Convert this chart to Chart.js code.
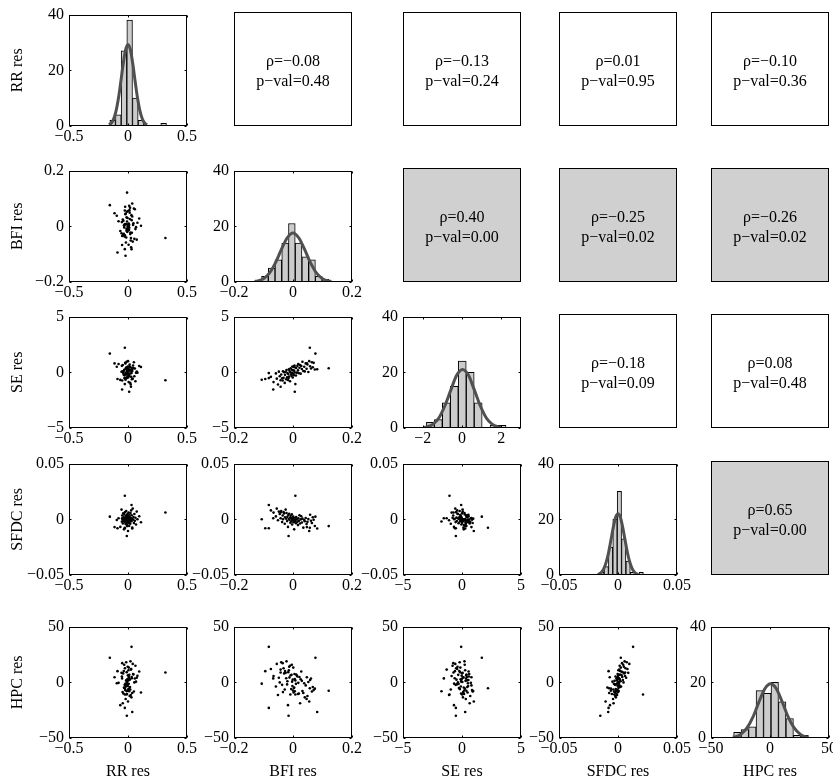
<!DOCTYPE html>
<html>
<head>
<meta charset="utf-8">
<script src="https://cdn.jsdelivr.net/npm/chart.js@4.4.1/dist/chart.umd.min.js"></script>
<style>
  html, body { margin: 0; padding: 0; background: #fff; overflow: hidden; width: 833px; height: 782px; }
  canvas { position: absolute; }
</style>
</head>
<body>
<script>
// residuals, one entry per subject
const rrRes = [-0.154, 0.317, -0.008, -0.027, -0.027, 0.030, -0.010, 0.036, -0.027, -0.114, -0.089, 0.010, -0.050, -0.021,
  0.000, -0.034, 0.036, -0.065, 0.010, -0.008, 0.068, -0.020, 0.019, -0.044,
  0.006, 0.050, -0.013, -0.004, 0.110, -0.028, 0.014, -0.052, 0.003, 0.029,
  -0.006, -0.039, 0.058, 0.001, -0.016, 0.023, -0.095, 0.008, -0.024, 0.043,
  -0.002, 0.015, -0.046, 0.080, -0.009, 0.004, -0.030, 0.033, -0.012, 0.011,
  -0.080, 0.025, -0.005, -0.022, 0.063, 0.002, -0.036, 0.017, 0.046, -0.007,
  0.007, -0.018, 0.095, -0.001, -0.049, 0.031, -0.011, 0.012, -0.032, 0.054,
  -0.003, -0.041, 0.021, 0.005, -0.026, 0.074, -0.015, 0.027, -0.055, 0.040];
const bfiRes = [0.076, -0.042, 0.121, 0.057, 0.008, -0.082, -0.015, 0.082, -0.082, 0.047, -0.094, 0.006, -0.067, -0.106,
  0.055, 0.004, 0.035, -0.017, 0.074, 0.017, -0.003, 0.046, -0.028, 0.024,
  0.010, 0.064, -0.009, 0.030, 0.002, -0.037, 0.049, 0.015, -0.006, 0.040,
  -0.020, 0.020, 0.061, 0.000, 0.008, -0.051, 0.038, -0.012, 0.070, 0.005,
  -0.002, 0.026, -0.034, 0.013, 0.052, -0.014, 0.003, -0.023, 0.032, -0.005,
  0.018, -0.042, 0.006, 0.043, -0.010, -0.001, -0.027, 0.067, 0.011, -0.019,
  0.001, -0.058, 0.028, -0.008, -0.035, 0.022, -0.016, 0.058, -0.004, -0.045,
  -0.013, -0.030, -0.022, -0.066, -0.032, -0.048, -0.040, -0.075, -0.025, -0.055];
const seRes = [1.68, -0.72, 0.37, 2.2, -1.06, -0.07, -0.52, 0.27, -0.52, 0.8, -0.6, -1.74, -1.54, -0.67,
  1.00, 0.15, 0.12, -0.68, 0.25, 0.17, -0.05, 0.32, -0.95, 0.65,
  -0.29, 0.90, 0.01, 0.30, 0.47, -0.54, 0.70, 0.58, -0.18, 0.08,
  -0.44, -0.08, 0.34, 0.19, 0.43, -1.10, 0.50, 0.13, 0.85, 0.61,
  0.52, -0.12, 0.10, -0.03, 0.03, 0.27, -0.26, -0.62, 0.95, -0.32,
  0.75, -1.30, -0.02, 0.80, -0.80, -0.47, -0.23, 0.45, 0.38, -0.07,
  -0.14, -0.10, 0.56, 0.36, -0.74, 0.41, -0.16, 0.54, 0.23, -0.35,
  -0.38, 0.00, 0.21, -0.88, -0.50, 0.06, -0.20, -0.41, 0.05, -0.57];
const sfdcRes = [0.0024, 0.0061, -0.0061, -0.0076, 0.0212, 0.0128, -0.0150, -0.0083, -0.0080, -0.0070, -0.0080, -0.0020, 0.0010, 0.0000,
  -0.0105, -0.0090, -0.0075, -0.0068, -0.0060, -0.0052, -0.0047, -0.0042, -0.0040, -0.0038,
  -0.0035, -0.0033, -0.0031, -0.0029, -0.0027, -0.0025, -0.0023, -0.0021, -0.0019, -0.0018,
  -0.0016, -0.0014, -0.0013, -0.0011, -0.0010, -0.0008, -0.0006, -0.0005, -0.0004, -0.0003,
  -0.0002, -0.0001, 0.0000, 0.0001, 0.0002, 0.0003, 0.0004, 0.0005, 0.0006, 0.0008,
  0.0009, 0.0010, 0.0011, 0.0012, 0.0014, 0.0015, 0.0017, 0.0018, 0.0020, 0.0022,
  0.0024, 0.0026, 0.0028, 0.0031, 0.0034, 0.0036, 0.0039, 0.0041, 0.0044, 0.0047,
  0.0050, 0.0053, 0.0056, 0.0060, 0.0064, 0.0069, 0.0074, 0.0080, 0.0087, 0.0096];
const hpcRes = [22, 8.8, -7.6, -5.3, -11, 31.8, -30, -26.6, -23, 4.6, 10, -8, 3.5, -1.2,
  -17.2, -4.7, -9.6, -20.5, -5.7, -10.5, 0.6, -15.0, -6.5, -18.8,
  -1.4, -8.3, -11.0, 1.3, -9.2, -2.3, -12.3, 5.2, -6.1, -13.5,
  -1.9, -10.0, 3.4, -7.4, 1.7, -11.4, -0.9, 4.4, -7.0, 7.5,
  -3.3, 2.7, -8.8, 5.9, 0.3, 10.8, -5.2, 3.7, -7.9, 6.7,
  -0.5, 11.4, 3.0, -2.8, 14.9, 2.4, 10.2, -4.2, 7.0, 1.0,
  13.2, -3.8, 9.7, 6.3, 17.2, 4.8, 9.1, 2.0, 15.7, -0.1,
  14.0, 8.0, 18.8, 5.6, 12.6, 4.1, 18.0, 12.0, 8.5, 16.5];

// histograms on the diagonal (bin centres and counts)
const rrBins = [-0.130, -0.082, -0.034, 0.014, 0.062, 0.110, 0.158, 0.206, 0.254, 0.302];
const rrCounts = [2, 4, 27, 38, 10, 2, 0, 0, 0, 1];
const bfiBins = [-0.0951, -0.0723, -0.0495, -0.0267, -0.0039, 0.0189, 0.0417, 0.0645, 0.0873, 0.1101];
const bfiCounts = [2, 5, 8, 14, 21, 14, 9, 8, 2, 1];
const seBins = [-1.6075, -1.2025, -0.7975, -0.3925, 0.0125, 0.4175, 0.8225, 1.2275, 1.6325, 2.0375];
const seCounts = [2, 3, 9, 15, 24, 20, 9, 0, 1, 1];
const sfdcBins = [-0.01365, -0.00995, -0.00625, -0.00255, 0.00115, 0.00485, 0.00855, 0.01225, 0.01595, 0.01965];
const sfdcCounts = [1, 3, 10, 20, 30, 13, 5, 1, 0, 1];
const hpcBins = [-27.635, -21.305, -14.975, -8.645, -2.315, 4.015, 10.345, 16.675, 23.005, 29.335];
const hpcCounts = [2, 3, 4, 17, 16, 20, 13, 7, 1, 1];

// fitted curves over the histograms
const rrCurveX = [-0.16, -0.14, -0.12, -0.10, -0.08, -0.06, -0.04, -0.02, 0, 0.02, 0.04, 0.06, 0.08, 0.10, 0.12, 0.14, 0.16];
const rrCurveY = [0.4, 1.1, 2.7, 5.6, 10.2, 16.2, 22.5, 27.4, 29.3, 27.4, 22.5, 16.2, 10.2, 5.6, 2.7, 1.1, 0.4];
const bfiCurveX = [-0.13, -0.12, -0.10, -0.08, -0.06, -0.04, -0.02, 0, 0.02, 0.04, 0.06, 0.08, 0.10, 0.12, 0.13];
const bfiCurveY = [0.2, 0.4, 1.2, 3.2, 6.8, 11.5, 15.8, 17.6, 15.8, 11.5, 6.8, 3.2, 1.2, 0.4, 0.2];
const seCurveX = [-1.92, -1.77, -1.47, -1.17, -0.87, -0.57, -0.27, 0.03, 0.33, 0.63, 0.93, 1.23, 1.53, 1.83, 1.98];
const seCurveY = [0.2, 0.4, 1.4, 3.7, 8.0, 13.6, 18.9, 21.0, 18.9, 13.6, 8.0, 3.7, 1.4, 0.4, 0.2];
const sfdcCurveX = [-0.017, -0.014, -0.012, -0.010, -0.008, -0.006, -0.004, -0.002, 0, 0.002, 0.004, 0.006, 0.008, 0.010, 0.012, 0.014, 0.017];
const sfdcCurveY = [0.2, 1.0, 2.3, 4.6, 8.0, 12.5, 17.1, 20.7, 22.0, 20.7, 17.1, 12.5, 8.0, 4.6, 2.3, 1.0, 0.2];
const hpcCurveX = [-31.5, -29.5, -24.5, -19.5, -14.5, -9.5, -4.5, 0.5, 5.5, 10.5, 15.5, 20.5, 25.5, 30.5, 32.5];
const hpcCurveY = [0.3, 0.4, 1.4, 3.6, 7.5, 12.8, 17.6, 19.5, 17.6, 12.8, 7.5, 3.6, 1.4, 0.4, 0.3];

// correlations in the upper triangle: pairs (row, col)
const corrPairs = [[0, 1], [0, 2], [0, 3], [0, 4], [1, 2], [1, 3], [1, 4], [2, 3], [2, 4], [3, 4]];
const corrRho = [-0.08, -0.13, 0.01, -0.10, 0.40, -0.25, -0.26, -0.18, 0.08, 0.65];
const corrP = [0.48, 0.24, 0.95, 0.36, 0.00, 0.02, 0.02, 0.09, 0.48, 0.00];

// axes
const varNames = ['RR res', 'BFI res', 'SE res', 'SFDC res', 'HPC res'];
const varRange = [[-0.5, 0.5], [-0.2, 0.2], [-5, 5], [-0.05, 0.05], [-50, 50]];
const varTicks = [[-0.5, 0, 0.5], [-0.2, 0, 0.2], [-5, 0, 5], [-0.05, 0, 0.05], [-50, 0, 50]];
const histRange = [[-0.5, 0.5], [-0.2, 0.2], [-3, 3], [-0.05, 0.05], [-50, 50]];
const histTicks = [[-0.5, 0, 0.5], [-0.2, 0, 0.2], [-2, 0, 2], [-0.05, 0, 0.05], [-50, 0, 50]];
const countTicks = [0, 20, 40];

const varData = [rrRes, bfiRes, seRes, sfdcRes, hpcRes];
const histBins = [rrBins, bfiBins, seBins, sfdcBins, hpcBins];
const histCounts = [rrCounts, bfiCounts, seCounts, sfdcCounts, hpcCounts];
const curveX = [rrCurveX, bfiCurveX, seCurveX, sfdcCurveX, hpcCurveX];
const curveY = [rrCurveY, bfiCurveY, seCurveY, sfdcCurveY, hpcCurveY];

const FONT = "'Liberation Serif', 'Times New Roman', serif";
const colLeft = [69, 234, 403, 559, 711];
const rowTop = [12, 168, 314, 461, 624];
const PW = 118, PH = 114;
const ML = 66, MT = 12, MR = 24;

Chart.defaults.font.family = FONT;
Chart.defaults.font.size = 16;
Chart.defaults.color = '#000';

function fmt(v) {
  if (v === 0) return '0';
  return (v < 0 ? '\u2212' : '') + String(Math.abs(v));
}

// box round the plot area, with little inward ticks on all four sides
const frame = {
  id: 'frame',
  beforeDraw(chart, args, opts) {
    if (!opts.fill) return;
    const a = chart.chartArea, ctx = chart.ctx;
    ctx.save();
    ctx.fillStyle = opts.fill;
    ctx.fillRect(a.left, a.top, a.right - a.left, a.bottom - a.top);
    ctx.restore();
  },
  afterDraw(chart, args, opts) {
    const a = chart.chartArea, ctx = chart.ctx;
    const L = Math.round(a.left) + 0.5, R = Math.round(a.right) - 0.5;
    const T = Math.round(a.top) + 0.5, B = Math.round(a.bottom) - 0.5;
    ctx.save();
    ctx.strokeStyle = '#000';
    ctx.lineWidth = 1;
    ctx.strokeRect(L, T, R - L, B - T);
    if (opts.ticks) {
      const tl = 2;
      ctx.beginPath();
      const xs = chart.scales.x, ys = chart.scales.y;
      xs.ticks.forEach(t => {
        const px = Math.round(xs.getPixelForValue(t.value)) + 0.5;
        ctx.moveTo(px, B); ctx.lineTo(px, B - tl);
        ctx.moveTo(px, T); ctx.lineTo(px, T + tl);
      });
      ys.ticks.forEach(t => {
        const py = Math.round(ys.getPixelForValue(t.value)) + 0.5;
        ctx.moveTo(L, py); ctx.lineTo(L + tl, py);
        ctx.moveTo(R, py); ctx.lineTo(R - tl, py);
      });
      ctx.stroke();
    }
    if (opts.lines) {
      const cx = (a.left + a.right) / 2, cy = (a.top + a.bottom) / 2;
      ctx.fillStyle = '#000';
      ctx.font = '16px ' + FONT;
      ctx.textAlign = 'center';
      ctx.textBaseline = 'alphabetic';
      ctx.fillText(opts.lines[0], cx, cy - 3);
      ctx.fillText(opts.lines[1], cx, cy + 17);
    }
    ctx.restore();
  }
};

function axis(pos, range, ticks, size, title) {
  const horiz = pos === 'bottom';
  return {
    type: 'linear',
    position: pos,
    min: range[0],
    max: range[1],
    offset: false,
    afterBuildTicks: s => { s.ticks = ticks.map(v => ({ value: v })); },
    afterFit: s => { if (horiz) s.height = size; else s.width = size; },
    grid: { display: false, drawTicks: false },
    border: { display: false },
    ticks: {
      color: '#000',
      font: { family: FONT, size: 16 },
      padding: horiz ? 1 : 5,
      maxRotation: 0,
      autoSkip: false,
      callback: v => fmt(v)
    },
    title: title ? {
      display: true,
      text: title,
      color: '#000',
      font: { family: FONT, size: 16 },
      padding: horiz ? { top: 0, bottom: 7 } : { top: 5, bottom: 0 }
    } : { display: false }
  };
}

function makeCanvas(r, c) {
  const mb = r === 4 ? 50 : 32;
  const cv = document.createElement('canvas');
  cv.width = PW + ML + MR;
  cv.height = PH + MT + mb;
  cv.style.left = (colLeft[c] - ML) + 'px';
  cv.style.top = (rowTop[r] - MT) + 'px';
  document.body.appendChild(cv);
  return { cv, mb };
}

function baseOptions(r, c, mb, xRange, xTicks, yRange, yTicks, frameOpts) {
  return {
    responsive: false,
    animation: false,
    devicePixelRatio: 1,
    events: [],
    layout: { padding: { left: 0, top: MT, right: MR, bottom: 0 } },
    plugins: { legend: { display: false }, tooltip: { enabled: false }, frame: frameOpts },
    scales: {
      x: axis('bottom', xRange, xTicks, mb, r === 4 ? varNames[c] : null),
      y: axis('left', yRange, yTicks, ML, c === 0 ? varNames[r] : null)
    }
  };
}

for (let r = 0; r < 5; r++) {
  for (let c = 0; c < 5; c++) {
    const { cv, mb } = makeCanvas(r, c);
    if (r === c) {
      new Chart(cv, {
        type: 'bar',
        data: {
          datasets: [
            {
              type: 'line',
              data: curveX[r].map((x, k) => ({ x, y: curveY[r][k] })),
              borderColor: '#505050',
              borderWidth: 3,
              pointRadius: 0,
              cubicInterpolationMode: 'monotone',
              order: 0
            },
            {
              type: 'bar',
              data: histBins[r].map((x, k) => ({ x, y: histCounts[r][k] })),
              backgroundColor: '#cccccc',
              borderColor: '#000',
              borderWidth: 1,
              barPercentage: 1,
              categoryPercentage: 1,
              order: 1
            }
          ]
        },
        options: baseOptions(r, c, mb, histRange[r], histTicks[r], [0, 40], countTicks, { ticks: true }),
        plugins: [frame]
      });
    } else if (r > c) {
      const xs = varData[c], ys = varData[r];
      new Chart(cv, {
        type: 'scatter',
        data: {
          datasets: [{
            data: xs.map((x, k) => ({ x, y: ys[k] })),
            backgroundColor: '#000',
            borderWidth: 0,
            pointRadius: 1.3,
            pointHoverRadius: 1.3
          }]
        },
        options: baseOptions(r, c, mb, varRange[c], varTicks[c], varRange[r], varTicks[r], { ticks: true }),
        plugins: [frame]
      });
    } else {
      const k = corrPairs.findIndex(p => p[0] === r && p[1] === c);
      const rho = corrRho[k], p = corrP[k];
      const rhoTxt = (rho < 0 ? '\u2212' : '') + Math.abs(rho).toFixed(2);
      new Chart(cv, {
        type: 'scatter',
        data: { datasets: [] },
        options: {
          responsive: false,
          animation: false,
          devicePixelRatio: 1,
          events: [],
          layout: { padding: { left: ML, top: MT, right: MR, bottom: mb } },
          plugins: {
            legend: { display: false },
            tooltip: { enabled: false },
            frame: {
              ticks: false,
              fill: p < 0.05 ? '#d0d0d0' : null,
              lines: ['\u03c1=' + rhoTxt, 'p\u2212val=' + p.toFixed(2)]
            }
          },
          scales: {
            x: { display: false, min: 0, max: 1 },
            y: { display: false, min: 0, max: 1 }
          }
        },
        plugins: [frame]
      });
    }
  }
}
</script>
</body>
</html>
